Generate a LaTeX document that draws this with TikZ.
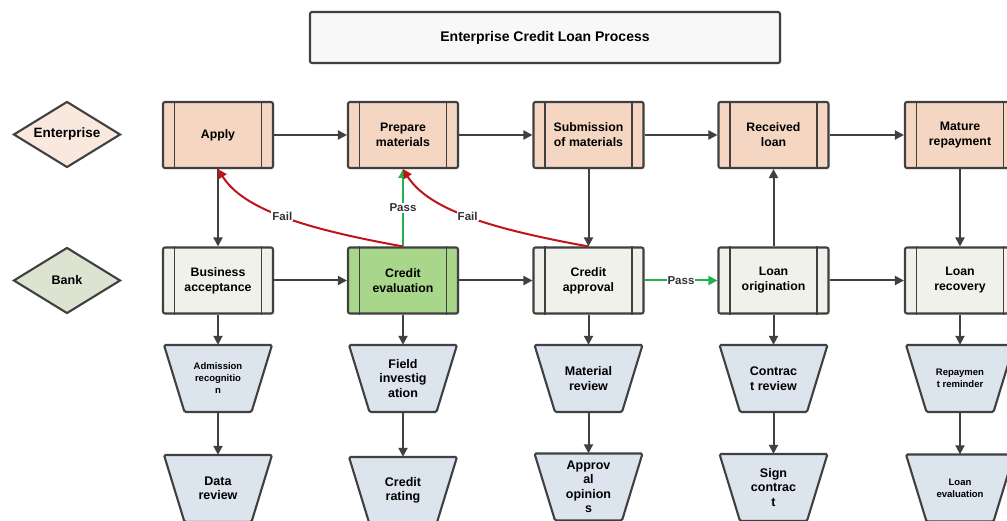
\documentclass[tikz,border=0pt]{standalone}
\usepackage{fontspec}
\setmainfont{Liberation Sans}
\usetikzlibrary{arrows.meta,shapes.geometric,shadows}
\definecolor{edge}{HTML}{404040}
\definecolor{entfill}{HTML}{F5D6C2}
\definecolor{entdia}{HTML}{F8E8DE}
\definecolor{bankfill}{HTML}{EFF1EA}
\definecolor{bankdia}{HTML}{DDE3D1}
\definecolor{evalfill}{HTML}{A8D68A}
\definecolor{trapfill}{HTML}{DCE4EE}
\definecolor{passgreen}{HTML}{22B14C}
\definecolor{failred}{HTML}{C0141C}
\definecolor{titlefill}{HTML}{F8F8F8}
\newcommand\trapz[5]{%
  \filldraw[trapline] (#2-54,#3-33.5) -- (#2+54,#3-33.5) -- (#2+33.5,#3+33.5) -- (#2-33.5,#3+33.5) -- cycle;
  \node[trapbox,#4] (#1) at (#2,#3) {#5};}
\begin{document}
\begin{tikzpicture}[x=1pt,y=-1pt,
  proc/.style={draw=edge,line width=2.1pt,rounded corners=2pt,minimum width=110,minimum height=66,inner sep=0,align=center,font=\fontsize{12.3}{15}\selectfont\bfseries,drop shadow={opacity=0.12,shadow xshift=1.5pt,shadow yshift=-1.5pt}},
  ent/.style={proc,fill=entfill},
  bank/.style={proc,fill=bankfill},
  lane/.style={diamond,aspect=1.62,draw=edge,line width=2.1pt,minimum width=107,minimum height=66,inner sep=0,font=\fontsize{13}{15}\selectfont\bfseries},
  trapline/.style={draw=edge,line width=2.1pt,fill=trapfill,rounded corners=1.5pt},
  trapbox/.style={minimum width=108,minimum height=67,inner sep=0,align=center},
  big/.style={font=\fontsize{12.5}{14.5}\selectfont\bfseries},
  small/.style={font=\fontsize{9.5}{12}\selectfont\bfseries},
  flow/.style={draw=edge,line width=2pt,-{Triangle[length=9pt,width=9pt]}},
  pass/.style={draw=passgreen,line width=2pt,-{Triangle[length=9pt,width=9pt]}},
  fail/.style={draw=failred,line width=2pt,-{Triangle[length=9pt,width=9pt]}},
  lbl/.style={fill=white,inner sep=1pt,font=\fontsize{11.5}{13}\selectfont\bfseries,text=edge!80!black}
]
\clip (0,0) rectangle (1007,521);
\fill[white] (0,0) rectangle (1007,521);

% title
\node[draw=edge,line width=2.1pt,rounded corners=2pt,fill=titlefill,minimum width=470,minimum height=51,font=\fontsize{14}{16}\selectfont\bfseries,drop shadow={opacity=0.12,shadow xshift=1.5pt,shadow yshift=-1.5pt}] (title) at (545,37.5) {Enterprise Credit Loan Process};

% lanes
\node[lane,fill=entdia,font=\fontsize{13.5}{15}\selectfont\bfseries] (lent) at (67,134.5) {Enterprise};
\node[lane,fill=bankdia,font=\fontsize{12.5}{15}\selectfont\bfseries] (lbank) at (67,280.5) {Bank};

% enterprise row
\node[ent] (apply) at (218,135) {Apply};
\node[ent] (prep) at (403,135) {Prepare\\materials};
\node[ent] (sub) at (588.5,135) {Submission\\of materials};
\node[ent] (rec) at (773.5,135) {Received\\loan};
\node[ent] (mat) at (960,135) {Mature\\repayment};

% bank row
\node[bank] (ba) at (218,280.5) {Business\\acceptance};
\node[proc,fill=evalfill] (ce) at (403,280.5) {Credit\\evaluation};
\node[bank] (ca) at (588.5,280.5) {Credit\\approval};
\node[bank] (lo) at (773.5,280.5) {Loan\\origination};
\node[bank] (lr) at (960,280.5) {Loan\\recovery};

\foreach \n in {apply,prep,sub,rec,mat,ba,ce,ca,lo,lr}{
  \draw[edge,line width=1.8pt] ([xshift=12.5pt]\n.north west) -- ([xshift=12.5pt]\n.south west)
    ([xshift=-12.5pt]\n.north east) -- ([xshift=-12.5pt]\n.south east);
}

% trapezoids
\trapz{t1a}{218}{378.5}{small}{Admission\\recognitio\\n}
\trapz{t1b}{218}{488.5}{big}{Data\\review}
\trapz{t2a}{403}{378.5}{big}{Field\\investig\\ation}
\trapz{t2b}{403}{490.5}{big}{Credit\\rating}
\trapz{t3a}{588.5}{378.5}{big}{Material\\review}
\trapz{t3b}{588.5}{487}{big}{Approv\\al\\opinion\\s}
\trapz{t4a}{773.5}{378.5}{big}{Contrac\\t review}
\trapz{t4b}{773.5}{487.5}{big}{Sign\\contrac\\t}
\trapz{t5a}{960}{378.5}{small}{Repaymen\\t reminder}
\trapz{t5b}{960}{488}{small}{Loan\\evaluation}

% horizontal flows
\draw[flow] (apply) -- (prep);
\draw[flow] (prep) -- (sub);
\draw[flow] (sub) -- (rec);
\draw[flow] (rec) -- (mat);
\draw[flow] (ba) -- (ce);
\draw[flow] (ce) -- (ca);
\draw[flow] (lo) -- (lr);
\draw[pass] (ca) -- node[lbl] {Pass} (lo);

% vertical flows
\draw[flow] (apply) -- (ba);
\draw[flow] (sub) -- (ca);
\draw[flow] (lo) -- (rec);
\draw[flow] (mat) -- (lr);
\draw[flow] (ba) -- (t1a.north);
\draw[flow] (ce) -- (t2a.north);
\draw[flow] (ca) -- (t3a.north);
\draw[flow] (lo) -- (t4a.north);
\draw[flow] (lr) -- (t5a.north);
\draw[flow] (t1a.south) -- (t1b.north);
\draw[flow] (t2a.south) -- (t2b.north);
\draw[flow] (t3a.south) -- (t3b.north);
\draw[flow] (t4a.south) -- (t4b.north);
\draw[flow] (t5a.south) -- (t5b.north);

% pass / fail
\draw[pass] (ce.north) -- node[lbl] {Pass} (prep.south);
\draw[fail] (ce.north) .. controls +(-100,-18) and +(25,40) .. node[lbl,pos=0.5] {Fail} (apply.south);
\draw[fail] (ca.north) .. controls +(-100,-18) and +(25,40) .. node[lbl,pos=0.5] {Fail} (prep.south);
\end{tikzpicture}
\end{document}
